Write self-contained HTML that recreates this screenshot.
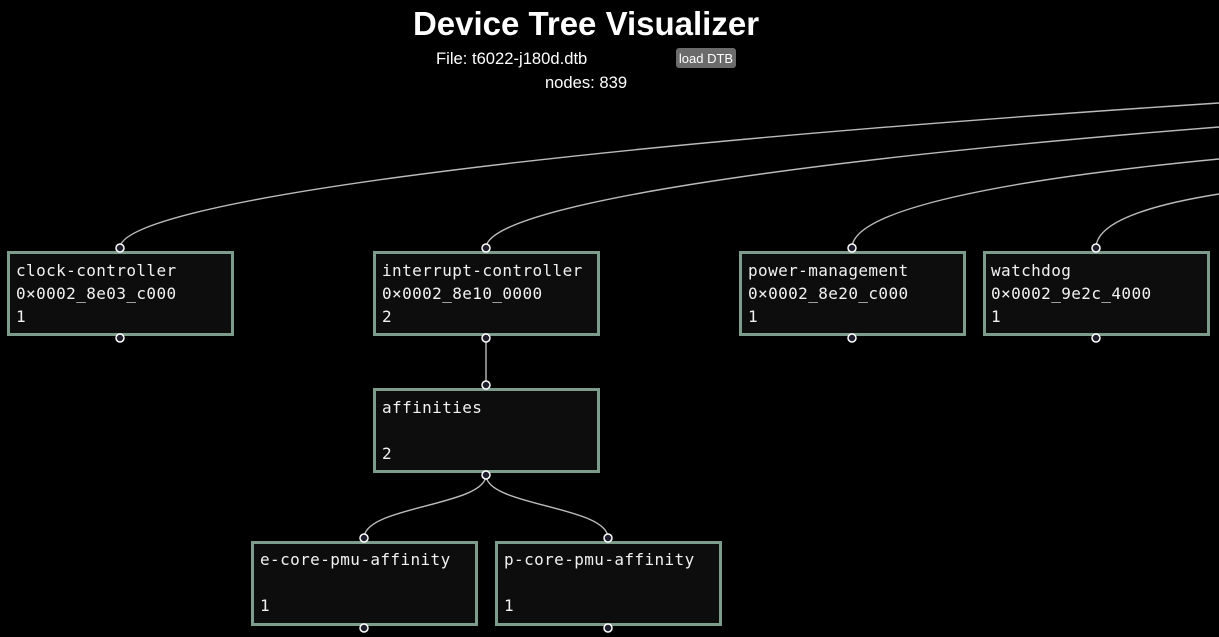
<!DOCTYPE html>
<html><head><meta charset="utf-8"><style>
html,body{margin:0;padding:0;background:#000;width:1219px;height:637px;overflow:hidden}
svg{position:absolute;left:0;top:0}
.t{font-family:"DejaVu Sans Mono","Liberation Mono",monospace;font-size:16px;letter-spacing:0.4px;fill:#f2f2f2}
.h{font-family:"Liberation Sans",sans-serif;fill:#fff}
</style></head><body>
<svg width="1219" height="637" viewBox="0 0 1219 637">
<text class="h" x="586" y="35" font-size="33" font-weight="bold" text-anchor="middle">Device Tree Visualizer</text>
<text class="h" x="436" y="64" font-size="16.6">File: t6022-j180d.dtb</text>
<rect x="676" y="48" width="60" height="20" rx="3" fill="#6b6b6b"/>
<text class="h" x="706" y="63" font-size="13" text-anchor="middle">load DTB</text>
<text class="h" x="586" y="88" font-size="16.6" text-anchor="middle">nodes: 839</text>
<g fill="none" stroke="#bbb" stroke-width="1.4">
<path d="M120,248 C120,205 500,150 1219,103"/>
<path d="M486,248 C486,205 800,160 1219,127"/>
<path d="M852,248 C852,210 1000,180 1219,159"/>
<path d="M1096,248 C1096,222 1150,205 1219,194"/>
<path d="M486,338 L486,385"/>
<path d="M486,475 C486,506 364,506 364,538"/>
<path d="M486,475 C486,506 608,506 608,538"/>
</g>
<g fill="#0d0d0d" stroke="#7d9c8b" stroke-width="3">
<rect x="8.5" y="252.5" width="224" height="82"/>
<rect x="374.5" y="252.5" width="224" height="82"/>
<rect x="740.5" y="252.5" width="224" height="82"/>
<rect x="984.5" y="252.5" width="224" height="82"/>
<rect x="374.5" y="389.5" width="224" height="82"/>
<rect x="252.5" y="542.5" width="224" height="82"/>
<rect x="496.5" y="542.5" width="224" height="82"/>
</g>
<g class="t">
<text x="16" y="276">clock-controller</text><text x="16" y="299">0×0002_8e03_c000</text><text x="16" y="322">1</text>
<text x="382" y="276">interrupt-controller</text><text x="382" y="299">0×0002_8e10_0000</text><text x="382" y="322">2</text>
<text x="748" y="276">power-management</text><text x="748" y="299">0×0002_8e20_c000</text><text x="748" y="322">1</text>
<text x="991" y="276">watchdog</text><text x="991" y="299">0×0002_9e2c_4000</text><text x="991" y="322">1</text>
<text x="382" y="413">affinities</text><text x="382" y="459">2</text>
<text x="260" y="565">e-core-pmu-affinity</text><text x="260" y="611">1</text>
<text x="504" y="565">p-core-pmu-affinity</text><text x="504" y="611">1</text>
</g>
<g fill="#1e1e2e" stroke="#fff" stroke-width="1.5">
<circle cx="120" cy="248" r="4"/><circle cx="120" cy="338" r="4"/>
<circle cx="486" cy="248" r="4"/><circle cx="486" cy="338" r="4"/>
<circle cx="852" cy="248" r="4"/><circle cx="852" cy="338" r="4"/>
<circle cx="1096" cy="248" r="4"/><circle cx="1096" cy="338" r="4"/>
<circle cx="486" cy="385" r="4"/><circle cx="486" cy="475" r="4"/>
<circle cx="364" cy="538" r="4"/><circle cx="364" cy="628" r="4"/>
<circle cx="608" cy="538" r="4"/><circle cx="608" cy="628" r="4"/>
</g>
</svg>
</body></html>
